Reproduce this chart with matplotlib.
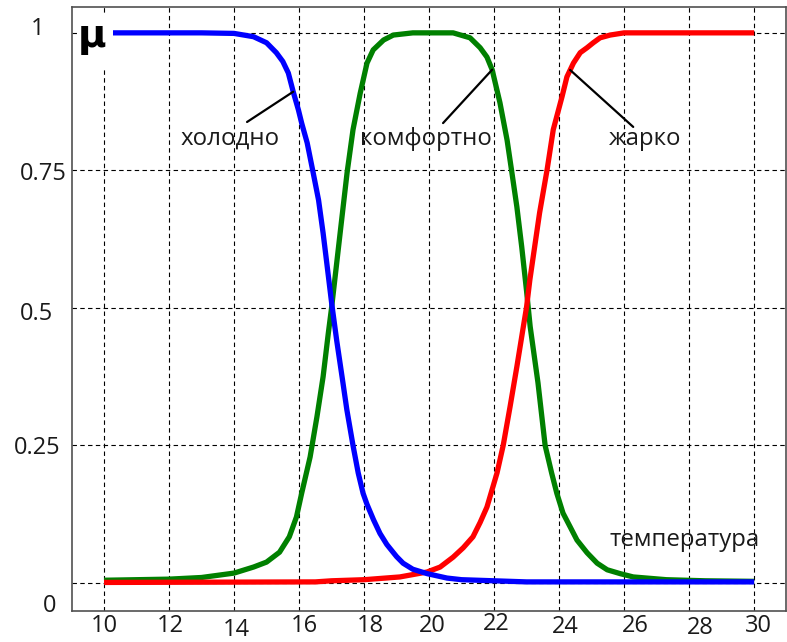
import numpy as np
import matplotlib
matplotlib.use("Agg")
import matplotlib.pyplot as plt
from matplotlib.transforms import ScaledTranslation
from matplotlib.patches import Rectangle

# Membership functions of the fuzzy variable "temperature"
cold_t = [10, 12, 13, 14, 14.6, 15.0, 15.3, 15.5, 15.67, 15.82,
          15.98, 16.08, 16.25, 16.43, 16.6, 16.74, 16.85, 17.0, 17.16, 17.35,
          17.47, 17.66, 17.82, 17.97, 18.09, 18.29, 18.49, 18.7, 19.0, 19.2,
          19.5, 19.94, 20.55, 21.0, 22.0, 23.0, 30]
cold_mu = [1, 1, 1, 0.999, 0.993, 0.982, 0.964, 0.948, 0.927, 0.893,
           0.86, 0.836, 0.80, 0.747, 0.696, 0.636, 0.583, 0.51, 0.44, 0.364,
           0.315, 0.25, 0.20, 0.163, 0.143, 0.115, 0.09, 0.07, 0.048, 0.036,
           0.025, 0.017, 0.009, 0.006, 0.004, 0.002, 0.002]

comfort_t = [10, 12, 13, 14, 14.6, 15.0, 15.4, 15.7, 15.92, 16.08,
             16.34, 16.55, 16.74, 16.9, 17.0, 17.31, 17.48, 17.66, 17.88, 18.09,
             18.28, 18.6, 18.9, 19.5, 20.74, 21.26, 21.57, 21.78, 21.94, 22.18,
             22.4, 22.55, 22.7, 22.85, 23.0, 23.11, 23.35, 23.57, 23.77, 23.93,
             24.12, 24.34, 24.55, 24.86, 25.17, 25.48, 25.88, 26.28, 27.3, 28.5,
             30]
comfort_mu = [0.005, 0.007, 0.01, 0.018, 0.029, 0.038, 0.056, 0.084, 0.12, 0.163,
              0.229, 0.302, 0.375, 0.454, 0.5, 0.66, 0.747, 0.824, 0.89, 0.945,
              0.969, 0.987, 0.996, 1.0, 1.0, 0.991, 0.973, 0.956, 0.933, 0.873,
              0.805, 0.745, 0.684, 0.611, 0.53, 0.466, 0.364, 0.25, 0.2, 0.163,
              0.127, 0.102, 0.078, 0.055, 0.036, 0.024, 0.017, 0.011, 0.006, 0.004,
              0.003]

hot_t = [10, 16.5, 17.0, 18.0, 19.1, 19.94, 20.34, 20.74, 21.05, 21.35,
         21.57, 21.78, 21.94, 22.09, 22.28, 22.49, 22.7, 22.9, 23.0, 23.1,
         23.4, 23.63, 23.82, 24.09, 24.24, 24.44, 24.65, 24.86, 25.05, 25.26,
         25.57, 26.0, 30]
hot_mu = [0.001, 0.002, 0.004, 0.006, 0.011, 0.02, 0.029, 0.047, 0.064, 0.084,
          0.11, 0.138, 0.17, 0.2, 0.25, 0.32, 0.393, 0.466, 0.502, 0.551,
          0.673, 0.751, 0.824, 0.884, 0.92, 0.945, 0.964, 0.973, 0.982, 0.991,
          0.996, 1.0, 1.0]

term_names = ["холодно", "комфортно", "жарко"]
axis_name = "температура"
mu_symbol = "μ"

x_ticks = [10, 12, 14, 16, 18, 20, 22, 24, 26, 28, 30]
x_tick_labels = [str(v) for v in x_ticks]
y_ticks = [0, 0.25, 0.5, 0.75, 1]
y_tick_labels = ["0", "0.25", "0.5", "0.75", "1"]

plt.rcParams['font.family'] = ['Open Sans', 'DejaVu Sans']

fig = plt.figure(figsize=(7.87, 6.42), dpi=100)
ax = fig.add_axes([72 / 787, 31 / 642, 714 / 787, 604 / 642])
ax.set_xlim(9.015, 30.98)
ax.set_ylim(-0.0509, 1.047)

# dashed grid behind the curves
ax.set_axisbelow(True)
ax.set_xticks(x_ticks, x_tick_labels)
ax.set_yticks(y_ticks, y_tick_labels)
ax.grid(True, color='black', linestyle=(0, (4, 3)), linewidth=0.8)
ax.tick_params(length=0, labelsize=17, colors='#1a1a1a')
ax.tick_params(axis='x', pad=2.5)
ax.tick_params(axis='y', pad=3)
for s in ax.spines.values():
    s.set_color('#505050')
    s.set_linewidth(1.2)

# curves
lw = 3.8
style = dict(lw=lw, solid_capstyle='butt', solid_joinstyle='round')
ax.plot(comfort_t, comfort_mu, color='#008000', zorder=2, **style)
ax.plot(hot_t, hot_mu, color='#ff0000', zorder=3, **style)
ax.plot(cold_t, cold_mu, color='#0000ff', zorder=4, **style)

# axis symbol in the upper-left corner on a white patch
ax.add_patch(Rectangle((9.26, 0.936), 1.02, 0.10, facecolor='white',
                       edgecolor='none', zorder=5))
ax.text(9.63, 0.975, mu_symbol, fontsize=28, fontweight='bold', ha='center',
        va='baseline', zorder=6, family=['DejaVu Sans'])

# term labels with leader lines to their curves
label_fs = 17.3
curves = [(cold_t, cold_mu), (comfort_t, comfort_mu), (hot_t, hot_mu)]
label_x = [13.88, 19.91, 26.65]
leader_start = [(14.4, 0.838), (20.43, 0.836), (26.28, 0.829)]
leader_end_t = [15.82, 21.94, 24.34]
for name, (ct, cm), lx, (sx, sy), et in zip(term_names, curves, label_x,
                                             leader_start, leader_end_t):
    ax.text(lx, 0.796, name, fontsize=label_fs, ha='center', va='baseline',
            color='#1a1a1a', zorder=6)
    ey = float(np.interp(et, ct, cm))
    ax.annotate('', xy=(et, ey), xytext=(sx, sy),
                arrowprops=dict(arrowstyle='-', lw=1.6, color='black',
                                shrinkA=0, shrinkB=0), zorder=6)

ax.text(27.85, 0.067, axis_name, fontsize=label_fs, ha='center', va='baseline',
        color='#1a1a1a', zorder=6)

# individual nudges of the tick labels (pixels: dx right, dy down)
x_nudge = [(0, 0), (1, 0), (2, 4), (5, 0), (6, 0), (3, 0), (2, -2), (6, 1),
           (11, 0), (11, 2), (4, 0)]
for lab, (dx, dy) in zip(ax.get_xticklabels(), x_nudge):
    lab.set_transform(lab.get_transform() +
                      ScaledTranslation(dx / 100, -dy / 100, fig.dpi_scale_trans))
y_nudge = [(-11, 20), (-7, 0), (-15, 3), (-1, 1), (-23, -7)]
for lab, (dx, dy) in zip(ax.get_yticklabels(), y_nudge):
    lab.set_transform(lab.get_transform() +
                      ScaledTranslation(dx / 100, -dy / 100, fig.dpi_scale_trans))

fig.savefig('out.png', dpi=100)
